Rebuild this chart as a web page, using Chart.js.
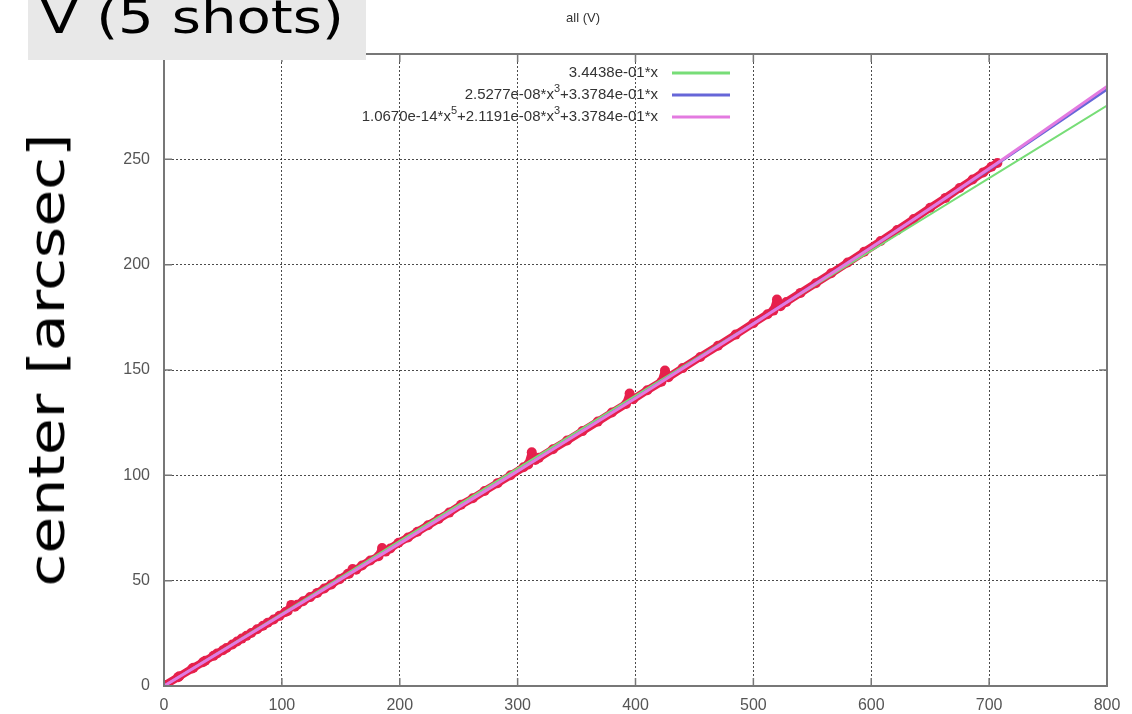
<!DOCTYPE html>
<html>
<head>
<meta charset="utf-8">
<script src="https://cdn.jsdelivr.net/npm/chart.js@4.4.1/dist/chart.umd.min.js"></script>
<style>
  html, body { margin: 0; padding: 0; background: #fff; }
  #wrap { position: relative; width: 1132px; height: 714px; overflow: hidden; }
  #tag {
    position: absolute; left: 28px; top: 0; width: 338px; height: 60px;
    background: #e8e8e8; overflow: hidden;
  }
  #tag span {
    position: absolute; left: 12px; top: -10px; white-space: nowrap;
    font: 46px "Comic Sans MS", "DejaVu Sans", sans-serif; color: #000;
    transform-origin: 0 0; transform: scaleX(1.22);
  }
  #ylab {
    position: absolute; left: 47px; top: 360px; white-space: nowrap;
    font: 50px "Comic Sans MS", "DejaVu Sans", sans-serif; color: #000;
    transform: translate(-50%, -50%) rotate(-90deg) scaleX(1.2);
  }
  #title {
    position: absolute; left: 583px; top: 10px; transform: translateX(-50%);
    font: 13px "Liberation Sans", Arial, sans-serif; color: #333;
  }
</style>
</head>
<body>
<div id="wrap">
  <canvas id="c" width="1132" height="714"></canvas>
  <div id="title">all (V)</div>
  <div id="ylab">center [arcsec]</div>
  <div id="tag"><span>V (5 shots)</span></div>
</div>
<script>
const dataX = [0, 1, 12, 13, 24, 25, 33, 35, 42, 45, 50, 53, 58, 62, 66, 70, 74, 79, 84, 88,
  93, 98, 103, 105, 108, 111, 113, 118, 124, 130, 136, 142, 149, 156, 157, 160, 163, 168, 175, 182, 185, 188, 192, 199, 207,
  215, 224, 233, 242, 252, 262, 272, 283, 294, 305, 309, 312, 315, 318, 330, 342, 355, 368, 380, 392, 395, 398, 410, 422, 425, 428,
  440, 455, 470, 485, 500, 512, 517, 520, 523, 528, 540, 553, 566, 580, 594, 608, 622, 636, 650, 663, 675, 686,
  695, 702, 707];
const dataY = [0.3, 0.5, 4.2, 4.6, 8.3, 8.7, 11.3, 12.0, 14.3, 15.4, 17.0, 18.0, 19.7, 21.1, 22.5, 23.8, 25.2, 26.9, 28.6, 30.0,
  31.6, 33.3, 35.1, 35.6, 38.5, 37.6, 38.6, 40.2, 42.2, 44.2, 46.3, 48.2, 50.7, 53.3, 53.3, 55.5, 55.2, 57.2, 59.6, 61.6, 65.5, 63.8, 65.3, 68.0, 70.5,
  73.2, 76.3, 79.3, 82.3, 86.0, 89.1, 92.6, 96.3, 100.0, 103.8, 105.2, 110.9, 107.3, 108.3, 112.4, 116.5, 121.0, 125.5, 129.8, 133.9, 138.8, 136.1, 140.4, 144.4, 149.8, 146.6,
  150.9, 156.2, 161.5, 166.8, 172.2, 176.5, 178.2, 183.5, 180.3, 182.3, 186.6, 191.2, 195.9, 201.0, 206.1, 211.2, 216.4, 221.7, 227.0, 231.7, 236.4, 240.4,
  243.8, 246.5, 248.3];

// fit curves
const fitX = [0, 100, 200, 300, 400, 500, 600, 700, 800];
const fitLin = [0, 34.4, 68.9, 103.3, 137.8, 172.2, 206.6, 241.1, 275.5];
const fitCub = [0, 33.8, 67.8, 102.0, 136.8, 172.1, 208.2, 245.2, 283.2];
const fitQuint = [0, 33.8, 67.7, 102.0, 136.6, 171.9, 208.1, 245.6, 284.6];

const xTicks = [0, 100, 200, 300, 400, 500, 600, 700, 800];
const yTicks = [0, 50, 100, 150, 200, 250, 300];

// legend text as [text, superscript?] pieces
const legendLabels = [
  [["3.4438e-01*x", 0]],
  [["2.5277e-08*x", 0], ["3", 1], ["+3.3784e-01*x", 0]],
  [["1.0670e-14*x", 0], ["5", 1], ["+2.1191e-08*x", 0], ["3", 1], ["+3.3784e-01*x", 0]],
];
const legendColors = ["#77dd77", "#6666d8", "#e37ae0"];

const pts = (xs, ys) => xs.map((x, i) => ({ x, y: ys[i] }));

const frame = {
  id: "frame",
  afterDraw(chart) {
    const { ctx, chartArea: a, scales } = chart;
    ctx.save();
    ctx.strokeStyle = "#777";
    ctx.lineWidth = 2;
    ctx.strokeRect(a.left, a.top, a.right - a.left, a.bottom - a.top);
    // inward tick marks on all four edges
    ctx.lineWidth = 1.5;
    ctx.beginPath();
    xTicks.forEach((v) => {
      const x = scales.x.getPixelForValue(v);
      ctx.moveTo(x, a.top); ctx.lineTo(x, a.top + 8);
      ctx.moveTo(x, a.bottom); ctx.lineTo(x, a.bottom - 8);
    });
    yTicks.forEach((v) => {
      const y = scales.y.getPixelForValue(v);
      ctx.moveTo(a.right, y); ctx.lineTo(a.right - 8, y);
      ctx.moveTo(a.left, y); ctx.lineTo(a.left + 8, y);
    });
    ctx.stroke();
    // legend
    const big = '15px "Liberation Sans", Arial, sans-serif';
    const small = '11px "Liberation Sans", Arial, sans-serif';
    ctx.textBaseline = "middle";
    const rightEdge = 658;
    legendLabels.forEach((parts, i) => {
      const y = 73 + i * 22;
      let w = 0;
      parts.forEach(([t, sup]) => {
        ctx.font = sup ? small : big;
        w += ctx.measureText(t).width;
      });
      let x = rightEdge - w;
      ctx.fillStyle = "#333";
      parts.forEach(([t, sup]) => {
        ctx.font = sup ? small : big;
        ctx.fillText(t, x, sup ? y - 6 : y);
        x += ctx.measureText(t).width;
      });
      ctx.strokeStyle = legendColors[i];
      ctx.lineWidth = 3;
      ctx.beginPath();
      ctx.moveTo(672, y);
      ctx.lineTo(730, y);
      ctx.stroke();
    });
    ctx.restore();
  },
};

const tickFont = { family: '"Liberation Sans", Arial, sans-serif', size: 16 };
const gridStyle = { color: "rgba(30,30,30,0.8)", lineWidth: 1, drawTicks: false };
const dotted = { display: false, dash: [2, 2] };

new Chart(document.getElementById("c"), {
  type: "scatter",
  data: {
    datasets: [
      {
        label: "data",
        data: pts(dataX, dataY),
        showLine: true,
        borderWidth: 8,
        borderJoinStyle: "round",
        borderCapStyle: "round",
        backgroundColor: "#e6204c",
        borderColor: "#e6204c",
        pointRadius: 5,
        pointBorderWidth: 0,
        order: 4,
      },
      {
        label: legendLabels[0].map((p) => p[0]).join(""),
        data: pts(fitX, fitLin),
        showLine: true,
        borderColor: legendColors[0],
        borderWidth: 2,
        pointRadius: 0,
        order: 3,
      },
      {
        label: legendLabels[1].map((p) => p[0]).join(""),
        data: pts(fitX, fitCub),
        showLine: true,
        borderColor: legendColors[1],
        borderWidth: 2.5,
        pointRadius: 0,
        cubicInterpolationMode: "monotone",
        order: 2,
      },
      {
        label: legendLabels[2].map((p) => p[0]).join(""),
        data: pts(fitX, fitQuint),
        showLine: true,
        borderColor: legendColors[2],
        borderWidth: 3,
        pointRadius: 0,
        cubicInterpolationMode: "monotone",
        order: 1,
      },
    ],
  },
  options: {
    responsive: false,
    animation: false,
    layout: { padding: { left: 0, top: 54, right: 25, bottom: 0 } },
    plugins: { legend: { display: false }, tooltip: { enabled: false } },
    scales: {
      x: {
        type: "linear",
        min: 0,
        max: 800,
        afterBuildTicks: (s) => { s.ticks = xTicks.map((v) => ({ value: v })); },
        afterFit: (s) => { s.height = 28; },
        ticks: { font: tickFont, color: "#555", padding: 10 },
        grid: gridStyle,
        border: dotted,
      },
      y: {
        min: 0,
        max: 300,
        afterBuildTicks: (s) => { s.ticks = yTicks.map((v) => ({ value: v })); },
        afterFit: (s) => { s.width = 164; },
        ticks: { font: tickFont, color: "#555", padding: 14 },
        grid: gridStyle,
        border: dotted,
      },
    },
  },
  plugins: [frame],
});
</script>
</body>
</html>
